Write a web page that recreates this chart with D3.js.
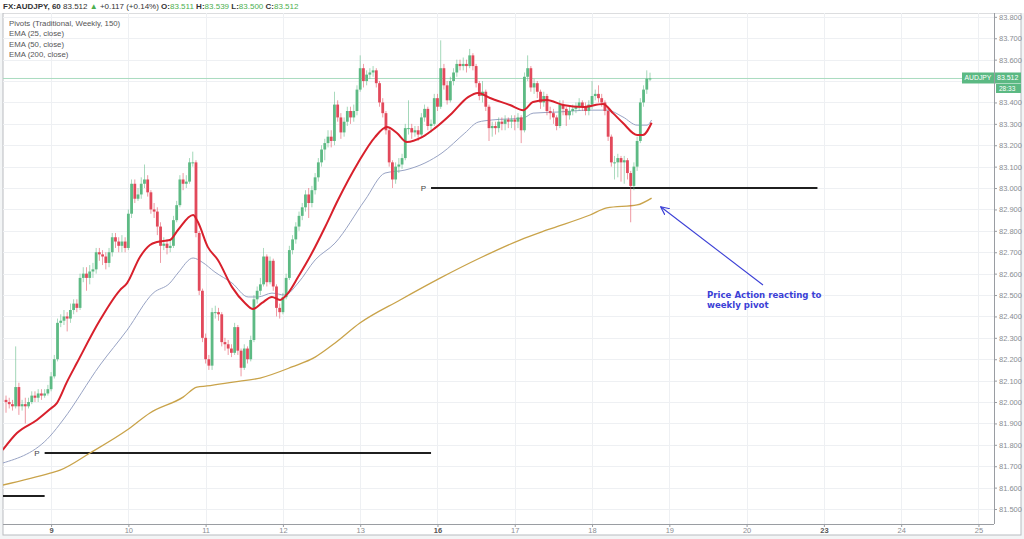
<!DOCTYPE html>
<html><head><meta charset="utf-8">
<script src="https://cdn.jsdelivr.net/npm/d3@7"></script>
<style>
html,body{margin:0;padding:0;background:#fff;}
svg{display:block;font-family:"Liberation Sans",Arial,sans-serif;}
</style></head><body>
<svg id="c" width="1024" height="539"></svg>
<script>
// ---------- DATA ----------
const firstOpen = 82.01;
const closes = [
82.00,81.99,81.98,82.07,81.98,81.99,81.98,82.00,82.03,82.02,
82.04,82.03,82.04,82.06,82.12,82.20,82.37,82.38,82.40,82.39,
82.43,82.46,82.44,82.58,82.60,82.58,82.61,82.62,82.70,82.69,
82.68,82.65,82.70,82.77,82.75,82.73,82.75,82.72,82.88,83.02,
82.95,82.97,83.02,83.04,82.98,82.90,82.89,82.82,82.73,82.74,
82.72,82.73,82.85,82.92,83.04,83.02,83.03,83.12,83.12,82.79,
82.52,82.30,82.20,82.17,82.42,82.42,82.41,82.28,82.27,82.25,
82.23,82.35,82.24,82.16,82.25,82.20,82.29,82.48,82.52,82.55,
82.68,82.56,82.66,82.54,82.44,82.42,82.49,82.58,82.71,82.76,
82.82,82.87,82.91,82.97,82.93,82.99,83.05,83.12,83.18,83.21,
83.24,83.22,83.39,83.33,83.26,83.31,83.36,83.33,83.36,83.46,
83.56,83.50,83.53,83.54,83.55,83.49,83.40,83.35,83.27,83.12,
83.04,83.10,83.11,83.14,83.28,83.28,83.26,83.27,83.25,83.33,
83.37,83.29,83.30,83.42,83.38,83.56,83.48,83.41,83.50,83.54,
83.58,83.57,83.58,83.57,83.62,83.57,83.49,83.43,83.45,83.38,
83.28,83.29,83.28,83.31,83.30,83.32,83.31,83.32,83.31,83.33,
83.27,83.52,83.56,83.47,83.49,83.45,83.40,83.43,83.36,83.35,
83.33,83.29,83.39,83.37,83.34,83.36,83.37,83.38,83.40,83.38,
83.36,83.39,83.43,83.44,83.42,83.40,83.36,83.24,83.12,83.12,
83.14,83.12,83.13,83.07,83.01,83.10,83.22,83.40,83.46,83.511,
83.512];
const highs = [
82.03,82.02,82.01,82.26,82.09,82.01,82.02,82.02,82.05,82.05,
82.06,82.06,82.06,82.08,82.14,82.22,82.39,82.41,82.43,82.42,
82.46,82.48,82.48,82.60,82.63,82.63,82.64,82.65,82.72,82.72,
82.71,82.70,82.72,82.79,82.79,82.77,82.78,82.77,82.90,83.04,
83.04,83.00,83.05,83.11,83.06,82.99,82.93,82.91,82.84,82.77,
82.76,82.76,82.87,82.94,83.06,83.07,83.06,83.14,83.17,83.13,
82.80,82.53,82.32,82.22,82.44,82.45,82.44,82.42,82.30,82.29,
82.27,82.37,82.36,82.25,82.27,82.26,82.31,82.50,82.54,82.58,
82.72,82.69,82.68,82.67,82.55,82.46,82.51,82.60,82.73,82.78,
82.84,82.89,82.93,82.99,83.00,83.01,83.07,83.14,83.20,83.23,
83.27,83.27,83.45,83.41,83.35,83.33,83.38,83.38,83.39,83.48,
83.62,83.58,83.55,83.56,83.57,83.56,83.50,83.42,83.36,83.28,
83.13,83.12,83.14,83.16,83.30,83.41,83.30,83.29,83.29,83.35,
83.39,83.38,83.32,83.44,83.44,83.69,83.58,83.50,83.52,83.56,
83.60,83.60,83.61,83.60,83.65,83.63,83.58,83.50,83.50,83.46,
83.39,83.31,83.31,83.33,83.33,83.34,83.33,83.34,83.34,83.35,
83.34,83.54,83.62,83.57,83.51,83.50,83.46,83.45,83.44,83.38,
83.37,83.34,83.41,83.41,83.38,83.38,83.39,83.40,83.42,83.41,
83.40,83.41,83.50,83.46,83.48,83.44,83.41,83.37,83.25,83.15,
83.16,83.15,83.15,83.14,83.08,83.12,83.24,83.42,83.48,83.55,
83.539];
const lows = [
81.95,81.97,81.96,81.97,81.94,81.96,81.90,81.97,81.99,82.00,
82.00,82.01,82.02,82.03,82.05,82.11,82.19,82.35,82.36,82.33,
82.37,82.41,82.42,82.43,82.56,82.52,82.55,82.58,82.60,82.66,
82.64,82.62,82.63,82.68,82.72,82.70,82.70,82.70,82.71,82.86,
82.93,82.94,82.95,83.00,82.96,82.88,82.86,82.78,82.65,82.71,
82.69,82.70,82.72,82.84,82.91,82.99,83.00,83.02,83.10,82.77,
82.50,82.28,82.18,82.15,82.15,82.39,82.38,82.26,82.24,82.22,
82.21,82.22,82.22,82.12,82.15,82.18,82.19,82.28,82.46,82.50,
82.54,82.54,82.55,82.52,82.40,82.39,82.41,82.48,82.57,82.69,
82.74,82.80,82.85,82.89,82.86,82.91,82.97,83.03,83.10,83.13,
83.19,83.19,83.20,83.31,83.23,83.24,83.29,83.30,83.31,83.34,
83.45,83.47,83.48,83.51,83.52,83.47,83.38,83.33,83.25,83.10,
83.00,83.02,83.07,83.09,83.13,83.25,83.23,83.24,83.22,83.24,
83.31,83.27,83.26,83.29,83.36,83.37,83.46,83.39,83.40,83.48,
83.52,83.55,83.55,83.54,83.56,83.55,83.47,83.41,83.40,83.36,
83.22,83.24,83.25,83.26,83.27,83.27,83.28,83.28,83.27,83.28,
83.21,83.26,83.50,83.45,83.44,83.42,83.37,83.38,83.34,83.32,
83.30,83.27,83.28,83.34,83.29,83.32,83.34,83.35,83.36,83.36,
83.34,83.34,83.37,83.41,83.40,83.38,83.34,83.22,83.10,83.04,
83.05,83.03,83.02,83.04,82.84,82.99,83.08,83.21,83.38,83.44,
83.500];

// EMA lines: [candle index, price]
const ema25 = [[-1,81.776],[3.4,81.855],[9.6,81.916],[13.7,81.967],[15.8,81.995],[18.9,82.093],[22,82.182],[29.2,82.383],[35.4,82.523],[37.6,82.556],[41.6,82.678],[44.7,82.734],[46.9,82.748],[50.9,82.757],[53.4,82.804],[58.1,82.874],[59.6,82.841],[62.7,82.724],[65.8,82.664],[70.2,82.537],[74.2,82.463],[76.7,82.435],[79.5,82.463],[82.6,82.491],[85.1,82.477],[87.6,82.509],[90.7,82.584],[95,82.696],[99.1,82.818],[103.1,82.944],[109.3,83.117],[114.6,83.238],[118.3,83.285],[121.4,83.257],[124.5,83.215],[129.2,83.238],[133.2,83.28],[138.5,83.35],[143.5,83.425],[146.6,83.444],[150.3,83.421],[156.5,83.388],[160.6,83.364],[163.7,83.402],[168,83.411],[173,83.388],[179.2,83.379],[185.4,83.393],[188.5,83.35],[191.6,83.304],[196,83.248],[197.8,83.248],[200.5,83.305]];
const ema50 = [[-1,81.715],[13.7,81.841],[17.7,81.916],[29.2,82.173],[37.6,82.336],[45.7,82.509],[50.9,82.556],[53.4,82.603],[58.1,82.673],[60.9,82.654],[64.9,82.607],[70.2,82.556],[75.2,82.491],[78.3,82.491],[82.6,82.509],[86.6,82.5],[90.7,82.556],[96,82.664],[102.2,82.743],[111.5,82.944],[117.7,83.07],[123.9,83.084],[130.1,83.117],[135.4,83.164],[142.5,83.257],[146.6,83.308],[150.9,83.318],[160.6,83.327],[163.7,83.35],[171.1,83.355],[181.4,83.364],[186.6,83.364],[191.6,83.332],[196,83.294],[199.1,83.294],[200.5,83.318]];
const ema200 = [[-1,81.612],[13.7,81.668],[16.8,81.682],[26.1,81.762],[37.6,81.869],[44.7,81.949],[55,82.023],[59.3,82.07],[62.4,82.075],[70.5,82.093],[78.9,82.112],[88.8,82.164],[96,82.21],[102.2,82.276],[109.9,82.369],[122.4,82.477],[134.8,82.579],[147.2,82.673],[159.6,82.757],[168,82.804],[181.4,82.874],[186.6,82.907],[196,82.921],[200.5,82.953]];

// Weekly pivots: level, start index, end index, show label
const pivotLevels = [81.56, 81.76, 83.00];
const pivotStarts = [-2, 12, 132];
const pivotEnds = [12, 132, 252];
const pivotLabels = ["", "P", "P"];

// X axis day ticks
const dayLabels = ["9","10","11","12","13","16","17","18","19","20","23","24","25"];
const dayIndex  = [14,38,62,86,110,134,158,182,206,230,254,278,302];
const dayBold   = [true,false,false,false,false,true,false,false,false,false,true,false,false];
const priceTicks = [81.5,81.6,81.7,81.8,81.9,82.0,82.1,82.2,82.3,82.4,82.5,82.6,82.7,82.8,82.9,83.0,83.1,83.2,83.3,83.4,83.5,83.6,83.7,83.8];
const lastPrice = 83.512;

// ---------- DRAW ----------
const svg = d3.select("#c");
const L = 3, R = 994, T = 13, B = 524;
const x = d3.scaleLinear().domain([0, 200]).range([6, 650]);
const y = d3.scaleLinear().domain([81.430, 83.818]).range([B, T]);

// outer background / frame
svg.append("rect").attr("x",0).attr("y",0).attr("width",1024).attr("height",539).attr("fill","#f3f5f6");
svg.append("rect").attr("x",L).attr("y",T).attr("width",1021-L).attr("height",535-T).attr("fill","#fff").attr("stroke","#b9bcc0").attr("stroke-width",1);
svg.append("rect").attr("x",0).attr("y",0).attr("width",1024).attr("height",T).attr("fill","#fff");

const plot = svg.append("g");
const defs = svg.append("defs");
defs.append("clipPath").attr("id","clip").append("rect").attr("x",L).attr("y",T).attr("width",R-L).attr("height",B-T);
defs.append("marker").attr("id","arr").attr("viewBox","0 0 10 10").attr("refX",9).attr("refY",5)
  .attr("markerWidth",9).attr("markerHeight",9).attr("markerUnits","userSpaceOnUse").attr("orient","auto")
  .append("path").attr("d","M0,0.5 L9.5,5 L0,9.5").attr("fill","none").attr("stroke","#3b3fd6").attr("stroke-width",1.3);

// grid
plot.selectAll("line.hg").data(priceTicks).join("line").attr("class","hg")
  .attr("x1",L).attr("x2",R).attr("y1",d=>Math.round(y(d))+0.5).attr("y2",d=>Math.round(y(d))+0.5)
  .attr("stroke","#eef0f3").attr("stroke-width",1);
plot.selectAll("line.vg").data(dayIndex).join("line").attr("class","vg")
  .attr("x1",d=>Math.round(x(d))+0.5).attr("x2",d=>Math.round(x(d))+0.5).attr("y1",T).attr("y2",B)
  .attr("stroke","#eef0f3").attr("stroke-width",1);

const g = plot.append("g").attr("clip-path","url(#clip)");

// last price line
g.append("line").attr("x1",L).attr("x2",R).attr("y1",y(lastPrice)).attr("y2",y(lastPrice))
  .attr("stroke","#a9dcc0").attr("stroke-width",1);

// pivots
pivotLevels.forEach((lv,k)=>{
  g.append("line").attr("x1",x(pivotStarts[k])).attr("x2",x(pivotEnds[k]))
    .attr("y1",Math.round(y(lv))).attr("y2",Math.round(y(lv))).attr("stroke","#1f1f1f").attr("stroke-width",2);
  if (pivotLabels[k]) g.append("text").attr("x",x(pivotStarts[k])-5).attr("y",y(lv)+3)
    .attr("text-anchor","end").attr("font-size",8).attr("fill","#444").text(pivotLabels[k]);
});

// EMA lines
const line = d3.line().x(d=>x(d[0])).y(d=>y(d[1])).curve(d3.curveMonotoneX);
g.append("path").datum(ema200).attr("d",line).attr("fill","none").attr("stroke","#c9a34a").attr("stroke-width",1.3);
g.append("path").datum(ema50).attr("d",line).attr("fill","none").attr("stroke","#98a3c4").attr("stroke-width",1);

// candles
const up = "#5dba84", dn = "#e2495b";
const candles = closes.map((c,i)=>({i, o: i===0?firstOpen:closes[i-1], c, h: highs[i], l: lows[i]}));
const cg = g.append("g");
cg.selectAll("line.w").data(candles).join("line").attr("class","w")
  .attr("x1",d=>x(d.i)).attr("x2",d=>x(d.i)).attr("y1",d=>y(d.h)).attr("y2",d=>y(d.l))
  .attr("stroke",d=>d.c>=d.o?up:dn).attr("stroke-width",0.8).attr("opacity",0.7);
cg.selectAll("rect.b").data(candles).join("rect").attr("class","b")
  .attr("x",d=>x(d.i)-1.4).attr("width",2.8)
  .attr("y",d=>y(Math.max(d.o,d.c))).attr("height",d=>Math.max(1,Math.abs(y(d.o)-y(d.c))))
  .attr("fill",d=>d.c>=d.o?up:dn);

g.append("path").datum(ema25).attr("d",line).attr("fill","none").attr("stroke","#d8202c").attr("stroke-width",2);

// right axis (the tick label hidden under the last-price box is not drawn)
svg.append("line").attr("x1",R+0.5).attr("x2",R+0.5).attr("y1",T).attr("y2",B).attr("stroke","#9a9da2");
const ly = y(lastPrice);
const ra = svg.append("g").attr("transform",`translate(${R},0)`)
  .call(d3.axisRight(y).tickValues(priceTicks).tickFormat(d3.format(".3f")).tickSize(3).tickPadding(2));
ra.select(".domain").remove();
ra.selectAll("line").attr("stroke","#9a9da2");
ra.selectAll("text").attr("font-size",7.5).attr("fill","#8a8d92").attr("font-family","Liberation Sans, Arial");
ra.selectAll(".tick").filter(d=>Math.abs(y(d)-ly)<14).select("text").remove();

// bottom axis
svg.append("line").attr("x1",L).attr("x2",R).attr("y1",B+0.5).attr("y2",B+0.5).attr("stroke","#9a9da2");
const ba = svg.append("g").attr("transform",`translate(0,${B})`)
  .call(d3.axisBottom(x).tickValues(dayIndex).tickFormat((d,k)=>dayLabels[k]).tickSize(3).tickPadding(1));
ba.select(".domain").remove();
ba.selectAll("line").attr("stroke","#9a9da2");
ba.selectAll("text").attr("font-size",7.5).attr("fill",(d,k)=>dayBold[k]?"#555":"#8a8d92")
  .attr("font-weight",(d,k)=>dayBold[k]?"bold":"normal").attr("font-family","Liberation Sans, Arial");

// last price label
svg.append("rect").attr("x",962).attr("y",ly-6).attr("width",32).attr("height",11).attr("fill","#5bb983");
svg.append("text").attr("x",978).attr("y",ly+2).attr("text-anchor","middle").attr("font-size",6.8).attr("fill","#fff").text("AUDJPY");
svg.append("rect").attr("x",995).attr("y",ly-6).attr("width",26).attr("height",11).attr("fill","#5bb983");
svg.append("text").attr("x",997).attr("y",ly+2).attr("font-size",7).attr("fill","#fff").text(d3.format(".3f")(lastPrice));
svg.append("rect").attr("x",996).attr("y",ly+5.5).attr("width",25).attr("height",9).attr("fill","#5bb983");
svg.append("text").attr("x",999).attr("y",ly+12.8).attr("font-size",6.5).attr("fill","#fff").text("28:33");

// header
const hd = svg.append("text").attr("x",3).attr("y",9).attr("font-size",8).attr("fill","#333");
hd.append("tspan").attr("font-weight","bold").text("FX:AUDJPY, 60 ");
hd.append("tspan").text("83.512 ");
hd.append("tspan").attr("fill","#4caf50").text("▲ ");
hd.append("tspan").text("+0.117 (+0.14%) ");
[["O:","83.511"],["H:","83.539"],["L:","83.500"],["C:","83.512"]].forEach(p=>{
  hd.append("tspan").attr("font-weight","bold").text(p[0]);
  hd.append("tspan").attr("fill","#4caf50").text(p[1]+" ");
});

// legend
["Pivots (Traditional, Weekly, 150)","EMA (25, close)","EMA (50, close)","EMA (200, close)"].forEach((t,k)=>{
  svg.append("text").attr("x",9).attr("y",26+k*10.3).attr("font-size",7.8).attr("fill","#555").text(t);
});

// annotation
svg.append("line").attr("x1",763).attr("y1",285).attr("x2",661).attr("y2",207)
  .attr("stroke","#3b3fd6").attr("stroke-width",1.1).attr("marker-end","url(#arr)");
const an = svg.append("text").attr("font-family","DejaVu Sans, Verdana, sans-serif").attr("font-weight","bold")
  .attr("font-size",8.6).attr("fill","#3b3fd6");
an.append("tspan").attr("x",707).attr("y",298).text("Price Action reacting to");
an.append("tspan").attr("x",707).attr("y",308).text("weekly pivot");
</script>
</body></html>
